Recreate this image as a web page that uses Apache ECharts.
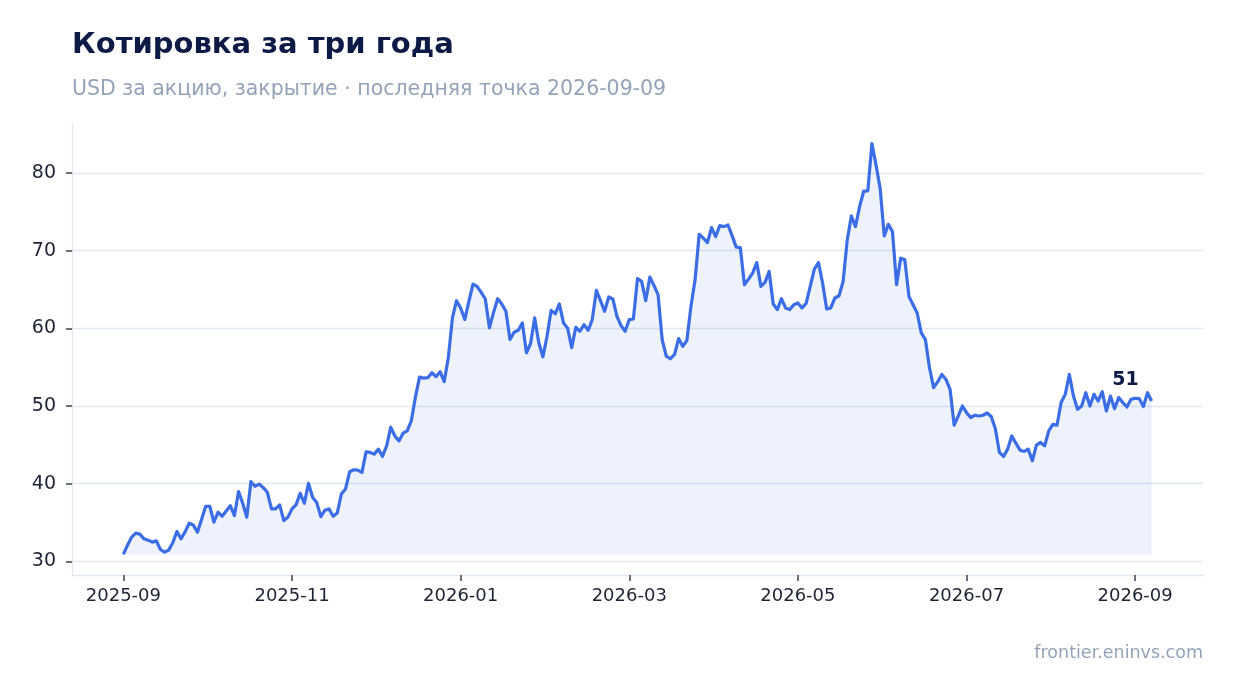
<!DOCTYPE html>
<html>
<head>
<meta charset="utf-8">
<title>Котировка за три года</title>
<script src="https://cdn.jsdelivr.net/npm/echarts@6.0.0/dist/echarts.min.js"></script>
<style>
    html, body { margin: 0; padding: 0; background: #fff; }
    #chart { width: 1234px; height: 693px; }
</style>
</head>
<body>
<div id="chart"></div>
<script>
// date labels under the x axis, one every tickStep points
var tickLabels = ['2025-09', '2025-11', '2026-01', '2026-03', '2026-05', '2026-07', '2026-09'];
var tickStep = 41;

// y axis labels
var yTicks = [30, 40, 50, 60, 70, 80];

// close price, USD
var prices = [
    30.90, 32.10, 33.13, 33.64, 33.51, 32.91, 32.74, 32.49, 32.65, 31.54,
    31.20, 31.46, 32.40, 33.85, 32.91, 33.80, 34.92, 34.70, 33.77, 35.40,
    37.10, 37.10, 35.05, 36.33, 35.82, 36.50, 37.18, 35.90, 39.00, 37.50,
    35.69, 40.26, 39.67, 39.96, 39.50, 38.90, 36.76, 36.76, 37.27, 35.26,
    35.70, 36.76, 37.31, 38.77, 37.49, 40.05, 38.26, 37.60, 35.77, 36.59,
    36.76, 35.82, 36.24, 38.68, 39.32, 41.54, 41.80, 41.76, 41.46, 44.10,
    44.03, 43.81, 44.45, 43.51, 44.87, 47.27, 46.15, 45.51, 46.50, 46.80,
    48.08, 51.15, 53.72, 53.59, 53.64, 54.28, 53.77, 54.41, 53.13, 56.20,
    61.33, 63.55, 62.62, 61.12, 63.46, 65.69, 65.38, 64.62, 63.77, 60.05,
    62.05, 63.81, 63.13, 62.18, 58.55, 59.49, 59.74, 60.69, 56.85, 58.04,
    61.33, 58.13, 56.33, 58.97, 62.31, 61.85, 63.13, 60.69, 60.05, 57.49,
    60.13, 59.62, 60.47, 59.74, 61.12, 64.87, 63.55, 62.18, 64.03, 63.77,
    61.54, 60.35, 59.62, 61.12, 61.20, 66.40, 66.03, 63.55, 66.59, 65.51,
    64.32, 58.55, 56.41, 56.08, 56.63, 58.68, 57.69, 58.42, 62.82, 66.24,
    72.10, 71.59, 71.03, 72.95, 71.79, 73.21, 73.08, 73.29, 71.92, 70.44,
    70.38, 65.60, 66.33, 67.10, 68.46, 65.38, 65.90, 67.31, 63.13, 62.40,
    63.81, 62.62, 62.40, 63.04, 63.26, 62.62, 63.20, 65.40, 67.61, 68.46,
    65.82, 62.49, 62.62, 63.90, 64.19, 66.03, 71.37, 74.45, 73.08, 75.64,
    77.65, 77.69, 83.77, 80.99, 78.00, 71.88, 73.38, 72.44, 65.60, 69.03,
    68.81, 64.10, 63.04, 61.97, 59.41, 58.55, 54.92, 52.36, 53.13, 54.06,
    53.42, 52.14, 47.53, 48.72, 50.00, 49.15, 48.51, 48.81, 48.72, 48.81,
    49.10, 48.64, 47.10, 44.03, 43.51, 44.45, 46.15, 45.22, 44.32, 44.15,
    44.45, 42.95, 44.96, 45.31, 44.87, 46.80, 47.65, 47.53, 50.44, 51.50,
    54.06, 51.28, 49.58, 50.00, 51.71, 50.00, 51.50, 50.64, 51.85, 49.36,
    51.28, 49.66, 51.08, 50.44, 49.87, 50.86, 50.99, 50.95, 49.92, 51.71,
    50.64
];

var FONT = 'DejaVu Sans';
var navy = '#0c1a45';
var muted = '#94a3b8';
var ink = '#1e2433';
var gridColor = '#e2e8f0';
var blue = '#3b6de6';

var n = prices.length;
var last = prices[n - 1];
var lo = Math.min.apply(null, prices);
var hi = Math.max.apply(null, prices);
var pad = (hi - lo) * 0.05;

var xTicks = tickLabels.map(function (t, k) { return k * tickStep; });

var seriesData = prices.map(function (v, i) { return [i, v]; });

var chart = echarts.init(document.getElementById('chart'), null, {renderer: 'canvas'});

chart.setOption({
    animation: false,
    backgroundColor: '#fff',
    title: [{
        text: 'Котировка за три года',
        left: 72,
        top: 31,
        padding: 0,
        textStyle: {fontFamily: FONT, fontSize: 29, fontWeight: 'bold', color: navy}
    }, {
        text: 'USD за акцию, закрытие · последняя точка 2026-09-09',
        left: 72,
        top: 79,
        padding: 0,
        textStyle: {fontFamily: FONT, fontSize: 20.5, fontWeight: 'normal', color: muted}
    }],
    graphic: [{
        type: 'text',
        right: 31,
        top: 644,
        style: {text: 'frontier.eninvs.com', fontFamily: FONT, fontSize: 17.5, fill: muted}
    }],
    grid: {left: 72, right: 31, top: 123, bottom: 118, containLabel: false},
    xAxis: {
        type: 'value',
        min: -(n - 1) * 0.05,
        max: (n - 1) * 1.05,
        axisLine: {show: true, onZero: false, lineStyle: {color: gridColor, width: 1.3}},
        axisTick: {show: true, customValues: xTicks, length: 6, lineStyle: {color: '#3d4350', width: 1.5}},
        axisLabel: {
            customValues: xTicks,
            margin: 12,
            fontFamily: FONT,
            fontSize: 18,
            color: ink,
            formatter: function (v) { return tickLabels[Math.round(v / tickStep)]; }
        },
        splitLine: {show: false}
    },
    yAxis: {
        type: 'value',
        min: lo - pad,
        max: hi + pad,
        axisLine: {show: true, onZero: false, lineStyle: {color: gridColor, width: 1.3}},
        axisTick: {show: true, customValues: yTicks, length: 6, lineStyle: {color: '#3d4350', width: 1.5}},
        axisLabel: {customValues: yTicks, margin: 16, fontFamily: FONT, fontSize: 19, color: ink},
        splitLine: {show: true, lineStyle: {color: gridColor, width: 1.3}}
    },
    series: [{
        type: 'line',
        data: seriesData,
        showSymbol: false,
        symbol: 'none',
        lineStyle: {color: blue, width: 3.2, join: 'round'},
        itemStyle: {color: blue},
        areaStyle: {color: 'rgba(59,109,230,0.09)', opacity: 1, origin: lo},
        // rounded last close written above-left of the end point
        markPoint: {
            symbol: 'circle',
            symbolSize: 1,
            itemStyle: {color: 'rgba(0,0,0,0)'},
            silent: true,
            data: [{coord: [n - 1, last], value: Math.round(last)}],
            label: {
                show: true,
                position: 'inside',
                offset: [-26, -21],
                fontFamily: FONT,
                fontSize: 19,
                fontWeight: 'bold',
                color: navy
            }
        },
        z: 3
    }]
});
</script>
</body>
</html>
